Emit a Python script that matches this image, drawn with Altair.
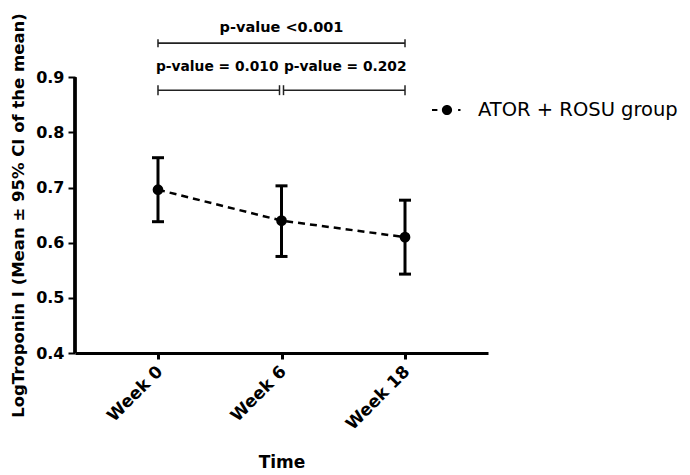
import json
import altair as alt
import pandas as pd

# ---- data ----
weeks = ["Week 0", "Week 6", "Week 18"]
mean = [0.696, 0.640, 0.610]
lower = [0.638, 0.575, 0.543]
upper = [0.754, 0.703, 0.677]
group = "ATOR + ROSU group"

comp_from = [0, 0, 1]
comp_to = [2, 1, 2]
comp_label = ["p-value <0.001", "p-value = 0.010", "p-value = 0.202"]

y_ticks = [0.4, 0.5, 0.6, 0.7, 0.8, 0.9]

FONT = "DejaVu Sans"

df = pd.DataFrame({
    "xi": list(range(len(weeks))),
    "week": weeks,
    "mean": mean,
    "lower": lower,
    "upper": upper,
    "group": [group] * len(weeks),
})

# bracket levels (layout, in data units above the axis)
UP_TEXT, UP_LINE, UP_TK = 0.9888, 0.9616, 0.0072
LO_TEXT, LO_LINE, LO_TK = 0.9181, 0.8764, 0.009

cmp = pd.DataFrame({"a": comp_from, "b": comp_to, "label": comp_label})
cmp["mid"] = (cmp["a"] + cmp["b"]) / 2
top = cmp.iloc[[0]].copy()
top["yt"] = UP_TEXT
top["yl"] = UP_LINE
top["y1"] = UP_LINE - UP_TK
top["y2"] = UP_LINE + UP_TK
low = cmp.iloc[1:].copy()
low["yt"] = LO_TEXT
low["yl"] = LO_LINE
low["y1"] = LO_LINE - LO_TK
low["y2"] = LO_LINE + LO_TK
low_left = low[low["a"] == 0]
low_right = low[low["a"] != 0]

xscale = alt.Scale(domain=[-0.672, 2.672], nice=False, zero=False)
yscale = alt.Scale(domain=[0.4, 1.0], nice=False, zero=False)

label_expr = json.dumps(weeks) + "[datum.value]"

X = alt.X("xi:Q", scale=xscale, title="Time",
          axis=alt.Axis(values=list(range(len(weeks))), labelExpr=label_expr,
                        labelAngle=-45, labelFont=FONT, labelFontSize=17,
                        labelFontWeight="bold", labelColor="black", labelOffset=-4,
                        titleFont=FONT, titleFontSize=17, titleFontWeight="bold",
                        titleColor="black", titleY=109, titleBaseline="middle",
                        grid=False, domainColor="black", domainWidth=3,
                        tickColor="black", tickWidth=3, tickSize=6,
                        labelPadding=4))
Y = alt.Y("mean:Q", scale=yscale,
          title="LogTroponin I (Mean ± 95% CI of the mean)",
          axis=alt.Axis(values=y_ticks, format=".1f", domain=False, grid=False,
                        labelFont=FONT, labelFontSize=16, labelFontWeight="bold",
                        labelColor="black", labelPadding=4,
                        tickColor="black", tickWidth=2, tickSize=7,
                        titleFont=FONT, titleFontSize=16.5, titleFontWeight="bold",
                        titleColor="black", titleAngle=-90, titleX=-57, titleY=193,
                        titleAlign="center", titleBaseline="middle"))

base = alt.Chart(df)

sym = ("M-1,-0.07H-0.64V0.07H-1Z "
       "M0.74,-0.07H0.9V0.07H0.74Z "
       "M-0.34,0A0.34,0.34 0 1,0 0.34,0A0.34,0.34 0 1,0 -0.34,0Z")

yaxis_line = alt.Chart(df).mark_rule(color="black", strokeWidth=3).encode(
    x=alt.value(0), y=alt.datum(min(y_ticks), scale=yscale), y2=alt.datum(max(y_ticks)))

err = base.mark_rule(color="black", strokeWidth=3).encode(
    x=X, y=alt.Y("lower:Q", scale=yscale), y2="upper:Q")
cap_hi = base.mark_rule(color="black", strokeWidth=3, xOffset=-6, x2Offset=6).encode(
    x="xi:Q", x2="xi:Q", y=alt.Y("upper:Q", scale=yscale))
cap_lo = base.mark_rule(color="black", strokeWidth=3, xOffset=-6, x2Offset=6).encode(
    x="xi:Q", x2="xi:Q", y=alt.Y("lower:Q", scale=yscale))

line = base.mark_line(color="black", strokeWidth=2.5, strokeDash=[7, 5]).encode(
    x="xi:Q", y=Y)
pts = base.mark_point(filled=True, size=115, opacity=1).encode(
    x="xi:Q", y="mean:Q",
    color=alt.Color("group:N", scale=alt.Scale(range=["black"]),
                    legend=alt.Legend(title=None, orient="none", legendX=357, legendY=73,
                                      symbolType=sym, symbolSize=900,
                                      symbolFillColor="black", symbolStrokeWidth=0,
                                      labelFont=FONT, labelFontSize=19.5, labelLimit=400,
                                      labelColor="black", labelOffset=16, padding=0)))

BR = "#222222"
# top bracket
tb_line = alt.Chart(top).mark_rule(color=BR, strokeWidth=1.8).encode(
    x=alt.X("a:Q", scale=xscale), x2="b:Q", y=alt.Y("yl:Q", scale=yscale))
tb_l = alt.Chart(top).mark_rule(color=BR, strokeWidth=1.5).encode(
    x=alt.X("a:Q", scale=xscale), y=alt.Y("y1:Q", scale=yscale), y2="y2:Q")
tb_r = alt.Chart(top).mark_rule(color=BR, strokeWidth=1.5).encode(
    x=alt.X("b:Q", scale=xscale), y=alt.Y("y1:Q", scale=yscale), y2="y2:Q")
# lower brackets
lb_left = alt.Chart(low_left).mark_rule(color=BR, strokeWidth=1.5, x2Offset=-2).encode(
    x=alt.X("a:Q", scale=xscale), x2="b:Q", y=alt.Y("yl:Q", scale=yscale))
lb_right = alt.Chart(low_right).mark_rule(color=BR, strokeWidth=1.5, xOffset=2).encode(
    x=alt.X("a:Q", scale=xscale), x2="b:Q", y=alt.Y("yl:Q", scale=yscale))
lb_l_end = alt.Chart(low_left).mark_rule(color=BR, strokeWidth=1.5).encode(
    x=alt.X("a:Q", scale=xscale), y=alt.Y("y1:Q", scale=yscale), y2="y2:Q")
lb_l_mid = alt.Chart(low_left).mark_rule(color=BR, strokeWidth=1.5, xOffset=-2).encode(
    x=alt.X("b:Q", scale=xscale), y=alt.Y("y1:Q", scale=yscale), y2="y2:Q")
lb_r_mid = alt.Chart(low_right).mark_rule(color=BR, strokeWidth=1.5, xOffset=2).encode(
    x=alt.X("a:Q", scale=xscale), y=alt.Y("y1:Q", scale=yscale), y2="y2:Q")
lb_r_end = alt.Chart(low_right).mark_rule(color=BR, strokeWidth=1.5).encode(
    x=alt.X("b:Q", scale=xscale), y=alt.Y("y1:Q", scale=yscale), y2="y2:Q")

txt_top = alt.Chart(top).mark_text(font=FONT, fontSize=14.5, fontWeight="bold",
                                   color="black", baseline="middle").encode(
    x=alt.X("mid:Q", scale=xscale), y=alt.Y("yt:Q", scale=yscale), text="label:N")
txt_low_l = alt.Chart(low_left).mark_text(font=FONT, fontSize=13.8, fontWeight="bold",
                                          color="black", baseline="middle", dx=-2.5).encode(
    x=alt.X("mid:Q", scale=xscale), y=alt.Y("yt:Q", scale=yscale), text="label:N")
txt_low_r = alt.Chart(low_right).mark_text(font=FONT, fontSize=13.8, fontWeight="bold",
                                           color="black", baseline="middle", dx=2).encode(
    x=alt.X("mid:Q", scale=xscale), y=alt.Y("yt:Q", scale=yscale), text="label:N")

chart = alt.layer(
    err, cap_hi, cap_lo, line, pts, yaxis_line,
    tb_line, tb_l, tb_r, lb_left, lb_right, lb_l_end, lb_l_mid, lb_r_mid, lb_r_end,
    txt_top, txt_low_l, txt_low_r,
).properties(
    width=413, height=331,
    padding={"left": 67, "top": 14, "right": 190, "bottom": 121},
    autosize=alt.AutoSizeParams(type="none"),
    background="white",
).configure_view(stroke=None)

chart.save("out.html", embed_options={"renderer": "svg", "actions": False})
